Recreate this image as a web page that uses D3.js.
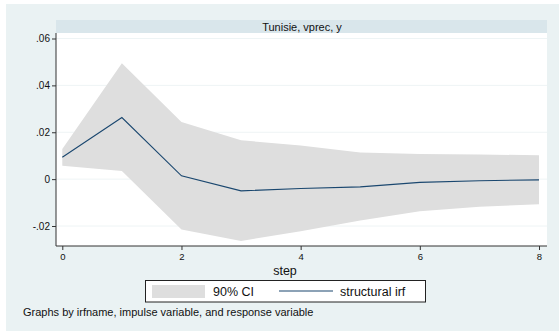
<!DOCTYPE html>
<html>
<head>
<meta charset="utf-8">
<script src="https://cdn.jsdelivr.net/npm/d3@7"></script>
<style>
  html, body { margin: 0; padding: 0; background: #ffffff; }
  svg { display: block; font-family: "Liberation Sans", Arial, sans-serif; }
</style>
</head>
<body>
<svg id="chart" width="559" height="331"></svg>
<script>
// Impulse response: Tunisie, impulse vprec, response y
const steps = [0, 1, 2, 3, 4, 5, 6, 7, 8];
const irf   = [0.0093, 0.0263, 0.0014, -0.0050, -0.0040, -0.0033, -0.0014, -0.0007, -0.0003];
const ciLow = [0.0057, 0.0035, -0.0215, -0.0264, -0.0222, -0.0177, -0.0137, -0.0118, -0.0107];
const ciUp  = [0.0129, 0.0494, 0.0244, 0.0166, 0.0143, 0.0114, 0.0107, 0.0105, 0.0102];
const yTicks = [-0.02, 0, 0.02, 0.04, 0.06];
const yTickLabels = ["-.02", "0", ".02", ".04", ".06"];
const xTicks = [0, 2, 4, 6, 8];
const panelTitle = "Tunisie, vprec, y";
const xTitle = "step";
const legendLabels = ["90% CI", "structural irf"];
const note = "Graphs by irfname, impulse variable, and response variable";

const svg = d3.select("#chart");

// outer graph region
svg.append("rect").attr("x", 6).attr("y", 4).attr("width", 553).attr("height", 327)
  .attr("fill", "#eaf2f3");

const plot = { left: 56, right: 547, top: 33, bottom: 246 };

// panel title strip
svg.append("rect").attr("x", plot.left).attr("y", 20)
  .attr("width", plot.right - plot.left).attr("height", 13).attr("fill", "#d9e6eb");
svg.append("text").attr("x", 302).attr("y", 30.5)
  .attr("text-anchor", "middle").attr("font-size", 11).attr("fill", "#111")
  .text(panelTitle);

// plot area
svg.append("rect").attr("x", plot.left).attr("y", plot.top)
  .attr("width", plot.right - plot.left).attr("height", plot.bottom - plot.top)
  .attr("fill", "#ffffff");

const x = d3.scaleLinear().domain([0, 8]).range([62.3, 539]);
const y = d3.scaleLinear().domain([-0.02, 0.06]).range([226, 38.5]);

// horizontal grid
svg.append("g").selectAll("line").data(yTicks).join("line")
  .attr("x1", plot.left).attr("x2", plot.right)
  .attr("y1", d => y(d)).attr("y2", d => y(d))
  .attr("stroke", "#eef4f5").attr("stroke-width", 1);

// confidence band
const area = d3.area().x((d, i) => x(steps[i])).y0((d, i) => y(ciLow[i])).y1((d, i) => y(ciUp[i]));
svg.append("path").datum(steps).attr("d", area).attr("fill", "#dedede");

// impulse response line
const line = d3.line().x((d, i) => x(steps[i])).y((d, i) => y(irf[i]));
svg.append("path").datum(steps).attr("d", line)
  .attr("fill", "none").attr("stroke", "#1a476f").attr("stroke-width", 1.1);

// y axis
const yAxis = d3.axisLeft(y).tickValues(yTicks).tickSize(4).tickPadding(2)
  .tickFormat((d, i) => yTickLabels[i]);
const gy = svg.append("g").attr("transform", `translate(${plot.left},0)`).call(yAxis);
gy.select(".domain").attr("d", `M0,${plot.top}V${plot.bottom}`).attr("stroke", "#333");
gy.selectAll(".tick line").attr("stroke", "#333");
gy.selectAll(".tick text").attr("font-size", 10).attr("fill", "#111")
  .attr("font-family", "Liberation Sans, Arial, sans-serif");

// x axis
const xAxis = d3.axisBottom(x).tickValues(xTicks).tickSize(4).tickPadding(3);
const gx = svg.append("g").attr("transform", `translate(0,${plot.bottom})`).call(xAxis);
gx.select(".domain").attr("d", `M${plot.left},0H${plot.right}`).attr("stroke", "#333");
gx.selectAll(".tick line").attr("stroke", "#333");
gx.selectAll(".tick text").attr("font-size", 9.5).attr("fill", "#111")
  .attr("font-family", "Liberation Sans, Arial, sans-serif");

svg.append("text").attr("x", 285).attr("y", 275).attr("text-anchor", "middle")
  .attr("font-size", 12.5).attr("fill", "#111").text(xTitle);

// legend
const lg = svg.append("g");
lg.append("rect").attr("x", 145.5).attr("y", 280.5).attr("width", 280).attr("height", 21.5)
  .attr("fill", "#ffffff").attr("stroke", "#222").attr("stroke-width", 1);
lg.append("rect").attr("x", 152).attr("y", 285).attr("width", 53).attr("height", 13)
  .attr("fill", "#dedede");
lg.append("text").attr("x", 213).attr("y", 296).attr("font-size", 12.5).attr("fill", "#111")
  .text(legendLabels[0]);
lg.append("line").attr("x1", 279).attr("x2", 333).attr("y1", 291).attr("y2", 291)
  .attr("stroke", "#1a476f").attr("stroke-width", 1.1);
lg.append("text").attr("x", 340).attr("y", 296).attr("font-size", 12.5).attr("fill", "#111")
  .text(legendLabels[1]);

// note
svg.append("text").attr("x", 23).attr("y", 315.5).attr("font-size", 11).attr("fill", "#111")
  .text(note);
</script>
</body>
</html>
